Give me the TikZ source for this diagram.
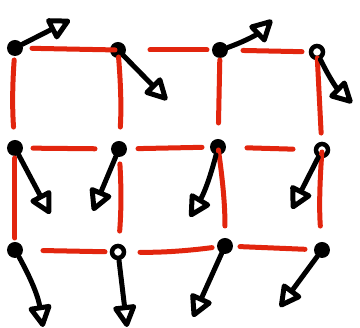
\documentclass[tikz,border=0pt]{standalone}
\usetikzlibrary{arrows.meta}
\definecolor{inkred}{RGB}{226,37,14}
\begin{document}
\begin{tikzpicture}[
      x=1pt, y=-1pt,
      dot/.style={circle, fill=black, inner sep=0pt, minimum size=16pt},
      ring/.style={circle, draw=black, line width=4.5pt, fill=white, inner sep=0pt, minimum size=12pt},
      link/.style={draw=inkred, line width=5pt, line cap=round},
      vec/.style={draw=black, line width=5pt, line cap=round, line join=round,
                  -{Triangle[open, round, length=25pt, width=25pt]}}
    ]
    \useasboundingbox (0,0) rectangle (360,328);

    % Punkte
    \node[dot]  (d11) at (15,48)  {};
    \node[dot]  (d12) at (118,50) {};
    \node[dot]  (d13) at (220,50) {};
    \node[ring] (d14) at (317,52) {};
    \node[dot]  (d21) at (15,148) {};
    \node[dot]  (d22) at (119,149) {};
    \node[dot]  (d23) at (218,147) {};
    \node[ring] (d24) at (322,150) {};
    \node[dot]  (d31) at (15,250) {};
    \node[ring] (d32) at (118,252) {};
    \node[dot]  (d33) at (225,246) {};
    \node[dot]  (d34) at (322,250) {};

    % Pfeilspitzen
    \coordinate (t11) at (70,20);
    \coordinate (t12) at (167,100);
    \coordinate (t13) at (272,20);
    \coordinate (t14) at (352,103);
    \coordinate (t21) at (50,214);
    \coordinate (t22) at (93,211);
    \coordinate (t23) at (190,217);
    \coordinate (t24) at (292,209);
    \coordinate (t31) at (43,327);
    \coordinate (t32) at (127,327);
    \coordinate (t33) at (193,317);
    \coordinate (t34) at (280,307);

    % rote Verbindungen, waagerecht
    \draw[link, yshift=4pt, shorten <=17pt, shorten >=3pt]  (d11.center) -- (d12.center);
    \draw[link, yshift=6pt, shorten <=32pt, shorten >=13pt] (d12.center) -- (d13.center);
    \draw[link, yshift=2pt, shorten <=23pt, shorten >=15pt] (d13.center) -- (d14.center);
    \draw[link, shorten <=18pt, shorten >=24pt]             (d21.center) -- (d22.center);
    \draw[link, yshift=7pt, shorten <=19pt, shorten >=16pt] (d22.center) -- (d23.center);
    \draw[link, yshift=4pt, shorten <=29pt, shorten >=29pt] (d23.center) -- (d24.center);
    \draw[link, shorten <=28pt, shorten >=13pt]             (d31.center) -- (d32.center);
    \draw[link, yshift=2pt, shorten <=22pt, shorten >=13pt] (d32.center) to[bend right=4] (d33.center);
    \draw[link, shorten <=15pt, shorten >=17pt]             (d33.center) -- (d34.center);

    % rote Verbindungen, senkrecht
    \draw[link, xshift=1pt, shorten <=12pt, shorten >=21pt] (d11.center) to[bend right=4] (d21.center);
    \draw[link, xshift=-1pt, shorten <=7pt, shorten >=22pt] (d12.center) to[bend left=4] (d22.center);
    \draw[link, xshift=5pt, shorten <=10pt, shorten >=24pt] (d13.center) -- (d23.center);
    \draw[link, shorten <=6pt, shorten >=17pt]              (d14.center) -- (d24.center);
    \draw[link, shorten <=10pt, shorten >=12pt]             (d21.center) -- (d31.center);
    \draw[link, xshift=8pt, shorten <=15pt, shorten >=21pt] (d22.center) to[bend left=4] (d32.center);
    \draw[link, xshift=4pt, shorten <=3pt, shorten >=20pt]  (d23.center) to[bend left=4] (d33.center);
    \draw[link, xshift=11pt, shorten <=2pt, shorten >=24pt] (d24.center) to[bend right=4] (d34.center);

    % Vektoren
    \draw[vec] (d11) -- (t11);
    \draw[vec] (d12) -- (t12);
    \draw[vec] (d13) to[bend right=12] (t13);
    \draw[vec] (d14) to[bend right=10] (t14);
    \draw[vec] (d21) -- (t21);
    \draw[vec] (d22) -- (t22);
    \draw[vec] (d23) to[bend left=8] (t23);
    \draw[vec] (d24) -- (t24);
    \draw[vec] (d31) to[bend left=10] (t31);
    \draw[vec] (d32) -- (t32);
    \draw[vec] (d33) -- (t33);
    \draw[vec] (d34) -- (t34);
  \end{tikzpicture}
\end{document}
